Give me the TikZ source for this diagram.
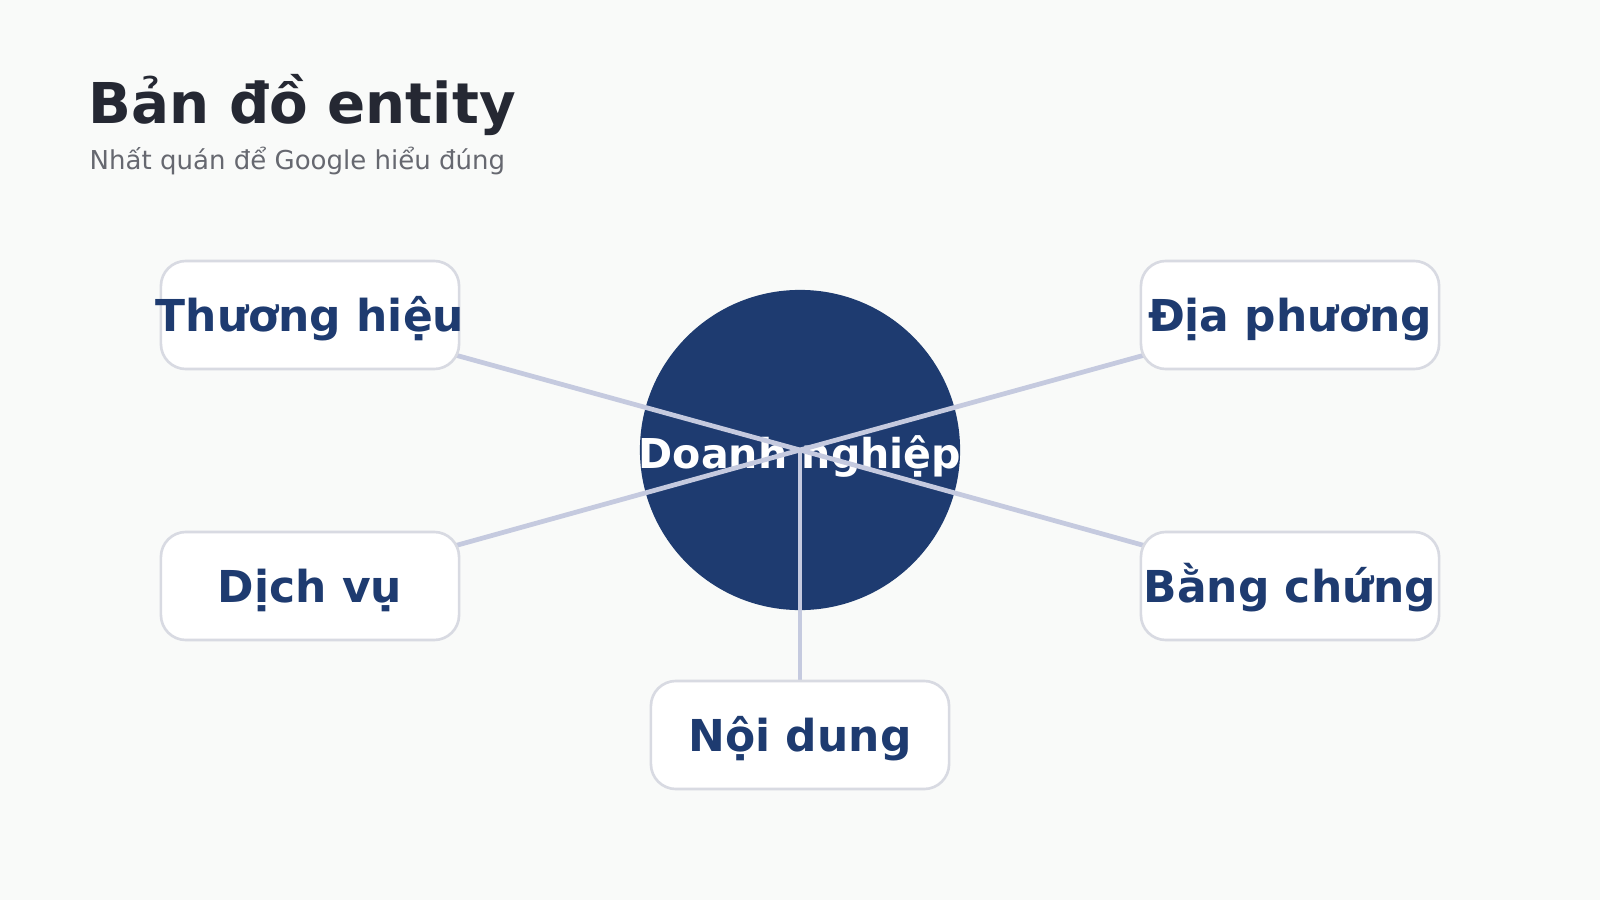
\documentclass[tikz,border=0pt]{standalone}
\usepackage{fontspec}
\setmainfont{DejaVu Sans}
\usetikzlibrary{backgrounds}
\definecolor{paper}{HTML}{F9FAF9}
\definecolor{ink}{HTML}{252833}
\definecolor{muted}{HTML}{666870}
\definecolor{navy}{HTML}{1E3B70}
\definecolor{spoke}{HTML}{C5CADF}
\definecolor{rim}{HTML}{D8DAE2}
\newcommand{\nowidth}[1]{\makebox[0pt][c]{#1}}
\begin{document}
\begin{tikzpicture}[
            x=0.01cm, y=-0.01cm,
            hub/.style={circle, fill=navy, minimum size=3.2cm, inner sep=0pt, text=white,
                font=\fontsize{11.7}{14}\selectfont\bfseries, text height=0.37cm, text depth=0cm},
            entity/.style={draw=rim, line width=0.75pt, fill=white, rounded corners=0.25cm,
                minimum width=2.98cm, minimum height=1.08cm, inner sep=0pt, text=navy,
                font=\fontsize{12.5}{15}\selectfont\bfseries, text height=0.32cm, text depth=0cm},
            link/.style={draw=spoke, line width=1.35pt},
            ]
            \useasboundingbox (0,0) rectangle (1600,900);
            \node (T) [anchor=base west, text=ink, font=\fontsize{16}{19}\selectfont\bfseries, inner sep=0pt] at (88,123) {Bản đồ entity};
            \node (ST) [anchor=base west, text=muted, font=\fontsize{7.4}{9}\selectfont, inner sep=0pt] at (89,169) {Nhất quán để Google hiểu đúng};
            
            \node (E1) [entity] at (310,315) {\nowidth{Thương hiệu}};
            \node (E2) [entity] at (1290,315) {\nowidth{Địa phương}};
            \node (E3) [entity] at (310,586) {\nowidth{Dịch vụ}};
            \node (E4) [entity] at (1290,586) {\nowidth{Bằng chứng}};
            \node (E5) [entity] at (800,735) {\nowidth{Nội dung}};
            
            \begin{scope}[on background layer]
                \fill[paper] (0,0) rectangle (1600,900);
                \node (H) [hub] at (800,450) {\nowidth{Doanh nghiệp}};
                \foreach \i in {1,...,5}
                    \draw[link] (H.center) -- (E\i.center);
            \end{scope}
        \end{tikzpicture}
\end{document}
